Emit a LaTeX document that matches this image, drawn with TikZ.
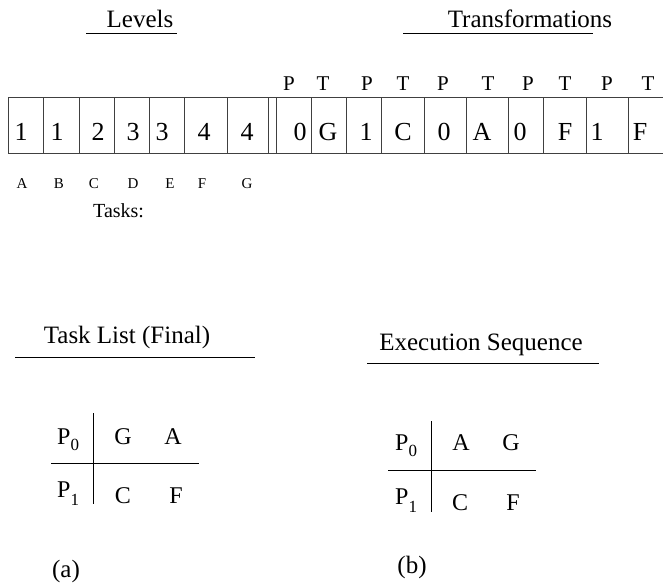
\documentclass[tikz,border=0pt]{standalone}
\usepackage{fontspec}
\setmainfont{Liberation Serif}
\newcommand{\myfs}[1]{\fontsize{#1}{#1}\selectfont}
\newcommand{\psub}[2]{P\raisebox{#2}{\myfs{17}#1}}
\begin{document}
\begin{tikzpicture}[x=1pt,y=-1pt,
  lbl/.style={inner sep=0pt,anchor=base},
  cell/.style={lbl,font=\myfs{26}},
  pt/.style={lbl,font=\myfs{21}},
  ttl/.style={lbl,font=\myfs{25}},
  tsk/.style={lbl,font=\myfs{15}},
  grid/.style={line width=0.9pt,black!75},
  rule/.style={line width=0.9pt,black}]
\useasboundingbox (0,0) rectangle (663,582);
% titles
\node[ttl] (lev) at (140,27) {Levels};
\draw[rule] (86,33) -- (177,33);
\node[ttl] (trf) at (530,27) {Transformations};
\draw[rule] (403,33) -- (593,33);
% P T labels
\foreach \x/\t [count=\i] in {289/P,323/T,367/P,403/T,443/P,488/T,528/P,565/T,607/P,648/T}
  \node[pt] (pt\i) at (\x,90) {\t};
% the strip
\draw[grid] (8,97) -- (663,97) (8,153) -- (663,153);
\foreach \x in {8,43,79,114,149,184,227,268,276,311,346,381,424,466,508,543,586,628}
  \draw[grid] (\x,97) -- (\x,153);
\foreach \x/\t [count=\i] in {21/1,57/1,98/2,133/3,162/3,204/4,247/4,300/0,328/G,366/1,403/C,444/0,482/A,520/0,565/F,597/1,640/F}
  \node[cell] (c\i) at (\x,140) {\t};
% task letters
\foreach \x/\t in {22/A,59/B,94/C,133/D,170/E,202/F,247/G}
  \node[tsk] (t\t) at (\x,188) {\t};
\node[lbl,font=\myfs{20},anchor=base west] (tasks) at (93,217) {Tasks:};
% (a) Task list
\node[ttl] (tl) at (127,343) {Task List (Final)};
\draw[rule] (15,357) -- (255,357);
\draw[rule] (93,413) -- (93,504);
\draw[rule] (51,463) -- (199,463);
\node[lbl,font=\myfs{24},anchor=base west] (ap0) at (57,444) {\psub{0}{-6pt}};
\node[lbl,font=\myfs{24},anchor=base west] (ap1) at (57,497) {\psub{1}{-8pt}};
\node[lbl,font=\myfs{24}] (ag) at (123,444) {G};
\node[lbl,font=\myfs{24}] (aa) at (173,444) {A};
\node[lbl,font=\myfs{24}] (ac) at (123,503) {C};
\node[lbl,font=\myfs{24}] (af) at (176,503) {F};
\node[ttl] (capa) at (66,577) {(a)};
% (b) Execution sequence
\node[ttl] (es) at (481,350) {Execution Sequence};
\draw[rule] (367,363) -- (599,363);
\draw[rule] (431,421) -- (431,512);
\draw[rule] (388,470) -- (536,470);
\node[lbl,font=\myfs{24},anchor=base west] (bp0) at (395,450) {\psub{0}{-6pt}};
\node[lbl,font=\myfs{24},anchor=base west] (bp1) at (395,504) {\psub{1}{-8pt}};
\node[lbl,font=\myfs{24}] (ba) at (461,450) {A};
\node[lbl,font=\myfs{24}] (bg) at (511,450) {G};
\node[lbl,font=\myfs{24}] (bc) at (460,510) {C};
\node[lbl,font=\myfs{24}] (bf) at (513,510) {F};
\node[ttl] (capb) at (412,573) {(b)};
\end{tikzpicture}
\end{document}
